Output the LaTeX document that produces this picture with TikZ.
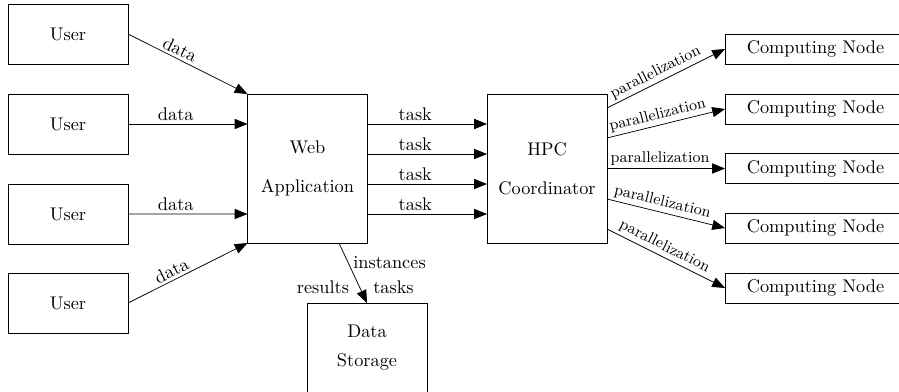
\documentclass[tikz,border=0pt]{standalone}
\usetikzlibrary{arrows.meta,calc}
\begin{document}
\begin{tikzpicture}[x=0.546pt,y=-0.546pt,
  box/.style={draw,inner sep=0pt,outer sep=0pt,align=center,minimum width=65.52pt},
  userbox/.style={box,minimum height=32.76pt},
  bigbox/.style={box,minimum height=81.4pt},
  cnbox/.style={box,minimum width=98.8pt,minimum height=16.4pt},
  lbl/.style={inner sep=1.5pt},
  plbl/.style={inner sep=1.5pt,font=\fontsize{8.5}{10}\selectfont},
  arr/.style={-{Triangle[length=7pt,width=5.5pt]}}]
\useasboundingbox (0,0) rectangle (899,391);

\node[userbox] (u1) at (68,34) {User};
\node[userbox] (u2) at (68,124) {User};
\node[userbox] (u3) at (68,214) {User};
\node[userbox] (u4) at (68,303) {User};

\node[bigbox] (web) at (307.5,168.5) {Web\\[9.3pt]Application};
\node[bigbox] (hpc) at (547,168.5) {HPC\\[9.3pt]Coordinator};
\node[box,minimum height=49.1pt] (ds) at (367,348) {Data\\[3.8pt]Storage};

\node[cnbox] (c1) at (815.5,49) {Computing Node};
\node[cnbox] (c2) at (815.5,109) {Computing Node};
\node[cnbox] (c3) at (815.5,168.5) {Computing Node};
\node[cnbox] (c4) at (815.5,228) {Computing Node};
\node[cnbox] (c5) at (815.5,288) {Computing Node};

\draw[arr] (u1.east) -- node[lbl,sloped,above,pos=0.4]{data} (web.north west);
\draw[arr] (u2.east) -- node[lbl,sloped,above,pos=0.4]{data} ($(web.west)+(0,-44.5)$);
\draw[arr] (u3.east) -- node[lbl,sloped,above,pos=0.4]{data} ($(web.west)+(0,45.5)$);
\draw[arr] (u4.east) -- node[lbl,sloped,above,pos=0.4]{data} (web.south west);

\foreach \o in {-44.5,-14.5,15.5,45.5}{
  \draw[arr] ($(web.east)+(0,\o)$) -- node[lbl,above,pos=0.4]{task} ($(hpc.west)+(0,\o)$);
}

\draw[arr] ($(hpc.east)+(0,-60.5)$) -- node[plbl,sloped,above,pos=0.45]{parallelization} (c1.west);
\draw[arr] ($(hpc.east)+(0,-30.5)$) -- node[plbl,sloped,above,pos=0.45]{parallelization} (c2.west);
\draw[arr] ($(hpc.east)+(0,0)$) -- node[plbl,sloped,above,pos=0.45]{parallelization} (c3.west);
\draw[arr] ($(hpc.east)+(0,30.5)$) -- node[plbl,sloped,above,pos=0.45]{parallelization} (c4.west);
\draw[arr] ($(hpc.east)+(0,60.5)$) -- node[plbl,sloped,above,pos=0.45]{parallelization} (c5.west);

\draw[arr] ($(web.south)+(31.5,0)$) -- (ds.north);
\node[inner sep=0pt] (inst) at (389.5,263) {instances};
\node[inner sep=0pt] (tsk) at (393.5,287.7) {tasks};
\node[inner sep=0pt] (res) at (323,287.7) {results};
\end{tikzpicture}
\end{document}
